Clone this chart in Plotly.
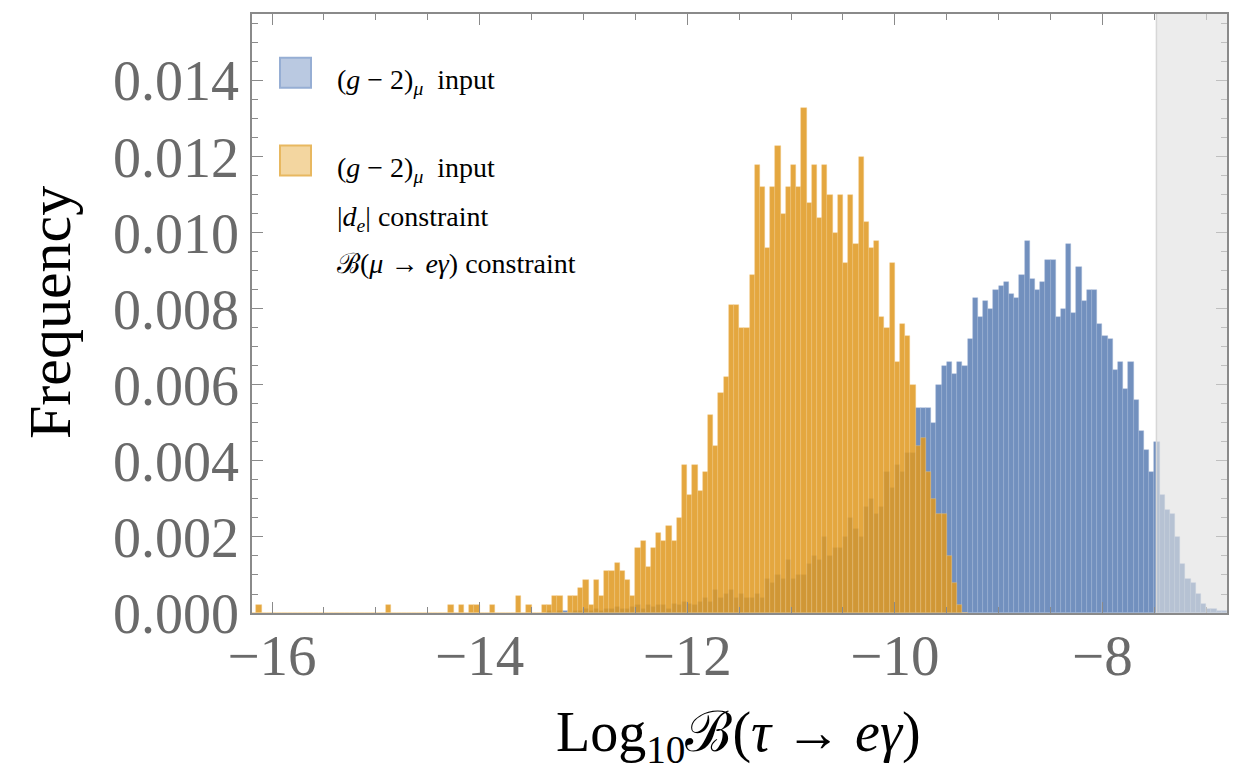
import numpy as np
import plotly.graph_objects as go

# ---------------- data ----------------
BIN_WIDTH = 0.05

# orange: (g-2)_mu input + |d_e| + B(mu->e gamma) constraints ; first bin starts at -16.2
orange_start = -16.2
orange_vals = [
    # -16.2 .. -15.25
    0, 0.00022, 0, 0, 0, 0, 0, 0, 0, 0, 0, 0, 0, 0, 0, 0, 0, 0, 0, 0,
    # -15.2 .. -14.25
    0, 0, 0, 0, 0, 0, 0.00022, 0, 0, 0, 0, 0, 0, 0, 0, 0, 0, 0, 0.00022, 0,
    # -14.2 .. -13.25
    0.00022, 0, 0.00022, 0.00022, 0, 0, 0.00022, 0, 0, 0, 0, 0.00044, 0, 0.00022, 0, 0,
    0.00022, 0.00022, 0.00044, 0.00044,
    # -13.2 .. -12.25
    0, 0.00044, 0.00044, 0.00066, 0.00088, 0.00022, 0.00088, 0.00044, 0.0011, 0.0011,
    0.00132, 0.0011, 0.00088, 0.00044, 0.0017, 0.0019, 0.0012, 0.0017, 0.0021, 0.0019,
    # -12.2 .. -11.25
    0.0023, 0.0019, 0.0025, 0.0039, 0.0031, 0.0039, 0.0032, 0.0037, 0.0052, 0.0044,
    0.0058, 0.0062, 0.0081, 0.0081, 0.0075, 0.0075, 0.0089, 0.0118, 0.0112, 0.0096,
    # -11.2 .. -10.25
    0.0112, 0.0123, 0.0105, 0.0112, 0.0118, 0.0112, 0.0133, 0.0108, 0.0118, 0.0104,
    0.0118, 0.0110, 0.0100, 0.0110, 0.0092, 0.0110, 0.0097, 0.0120, 0.0103, 0.0096,
    # -10.2 .. -9.35
    0.0098, 0.0078, 0.0075, 0.0092, 0.0066, 0.0076, 0.0073, 0.0060, 0.0044, 0.0046,
    0.0037, 0.0030, 0.0026, 0.0026, 0.0015, 0.0008, 0.0002, 0,
]

# blue: (g-2)_mu input only ; first bin starts at -13.35
blue_start = -13.35
blue_vals = [
    # -13.35 .. -11.55
    0.00005, 0, 0.00005, 0.00005, 0, 0.00005, 0.00005, 0.0001, 0.00005, 0.0001,
    0.00005, 0.0001, 0.0001, 0.00015, 0.0001, 0.0001, 0.00015, 0.0002, 0.0001, 0.0002,
    0.00015, 0.0002, 0.0002, 0.0001, 0.00025, 0.0002, 0.0003, 0.00025, 0.0002, 0.0003,
    0.0004, 0.0003, 0.0006, 0.0004, 0.0005, 0.0006, 0.0004,
    # -11.5 .. -10.05
    0.0005, 0.0004, 0.0004, 0.0005, 0.0004, 0.0009, 0.0008, 0.0010, 0.0009, 0.0014,
    0.0009, 0.0010, 0.0010, 0.0013, 0.0015, 0.0014, 0.0020, 0.0015, 0.0017, 0.0017,
    0.0020, 0.0025, 0.0022, 0.0020, 0.0028, 0.0030, 0.0026, 0.0028, 0.0037, 0.0033,
    # -10.0 .. -6.85
    0.0039, 0.0037, 0.0042, 0.0042, 0.0054, 0.0054, 0.0054, 0.0050, 0.0060, 0.0065,
    0.0066, 0.0063, 0.0066, 0.0065, 0.0072, 0.0083, 0.0078, 0.0082, 0.0080, 0.0085,
    0.0086, 0.0087, 0.0084, 0.0083, 0.0089, 0.0098, 0.0088, 0.0085, 0.0087, 0.0093,
    0.0093, 0.0078, 0.0080, 0.0097, 0.0079, 0.0091, 0.0082, 0.0085, 0.0085, 0.0076,
    0.0073, 0.0072, 0.0064, 0.0066, 0.0059, 0.0066, 0.0056, 0.0048, 0.0043, 0.0037,
    0.0045, 0.0031, 0.0027, 0.0026, 0.0020, 0.0013, 0.0009, 0.0008, 0.0005, 0.00025,
    0.0001, 0.0001, 0.00005, 0.00005,
]

x_ticks = [-16, -14, -12, -10, -8]
excluded_from = -7.48  # experimental bound on B(tau -> e gamma)

legend_labels = [
    "(<i>g</i> − 2)<sub><i>μ</i></sub>  input",
    "(<i>g</i> − 2)<sub><i>μ</i></sub>  input",
    "|<i>d</i><sub><i>e</i></sub>| constraint",
    "ℬ(<i>μ</i> → <i>eγ</i>) constraint",
]

# ---------------- figure ----------------
def centers(start, vals):
    return [round(start + BIN_WIDTH * (i + 0.5), 4) for i in range(len(vals))]

BLUE = "rgba(94,129,181,0.88)"
ORANGE = "rgba(224,153,32,0.86)"

fig = go.Figure()
fig.add_trace(go.Bar(
    x=centers(blue_start, blue_vals), y=blue_vals, width=BIN_WIDTH,
    marker=dict(color=BLUE, line=dict(color="rgba(160,182,215,0.7)", width=0.6)),
    showlegend=False,
))
fig.add_trace(go.Bar(
    x=centers(orange_start, orange_vals), y=orange_vals, width=BIN_WIDTH,
    marker=dict(color=ORANGE, line=dict(color="rgba(240,200,130,0.7)", width=0.6)),
    showlegend=False,
))

SERIF = "Liberation Serif, Times New Roman, serif"
GREY_TXT = "#6a6a6a"
FRAME = "#8a8a8a"

fig.update_layout(
    width=1245, height=776,
    margin=dict(l=252, r=18, t=12, b=163),
    paper_bgcolor="white", plot_bgcolor="white",
    barmode="overlay", bargap=0,
    showlegend=False,
)
fig.update_xaxes(
    range=[-16.193, -6.80], tickvals=x_ticks, ticks="inside", ticklen=11, tickwidth=1.3,
    tickcolor=FRAME, showline=True, linecolor=FRAME, linewidth=1.5, mirror="ticks",
    showgrid=False, zeroline=False, ticklabelstandoff=-8,
    tickfont=dict(family=SERIF, size=57, color=GREY_TXT),
    minor=dict(dtick=0.5, tick0=0, ticks="inside", ticklen=6, tickwidth=1.2, tickcolor=FRAME, showgrid=False),
)
fig.update_yaxes(
    range=[0, 0.01576], dtick=0.002, tick0=0, tickformat=".3f", ticks="inside", ticklen=11,
    tickwidth=1.3, tickcolor=FRAME, showline=True, linecolor=FRAME, linewidth=1.5, mirror="ticks",
    showgrid=False, zeroline=False,
    tickfont=dict(family=SERIF, size=56, color=GREY_TXT),
    minor=dict(dtick=0.0005, tick0=0, ticks="inside", ticklen=6, tickwidth=1.2, tickcolor=FRAME, showgrid=False),
)

# excluded region
fig.add_shape(type="rect", xref="x", yref="paper", x0=excluded_from, x1=-6.80, y0=0, y1=1,
              fillcolor="rgba(224,224,224,0.62)", line=dict(width=0), layer="above")
fig.add_shape(type="line", xref="x", yref="paper", x0=excluded_from, x1=excluded_from, y0=0, y1=1,
              line=dict(color="rgba(215,215,215,1)", width=1.5), layer="above")

# legend (manual, Mathematica style)
def px2paper(px, py):
    return (px - 252) / 975, (613 - py) / 601

for (top, bot), fill, edge in [((56, 86), "rgba(186,201,225,1)", "rgba(150,174,212,1)"),
                               ((144, 174), "rgba(243,214,160,1)", "rgba(232,184,96,1)")]:
    x0, y1 = px2paper(280, top)
    x1, y0 = px2paper(311, bot)
    fig.add_shape(type="rect", xref="paper", yref="paper", x0=x0, x1=x1, y0=y0, y1=y1,
                  fillcolor=fill, line=dict(color=edge, width=2))

for label, py in zip(legend_labels, [80, 168, 217, 262]):
    ax, ay = px2paper(335, py)
    fig.add_annotation(text=label, xref="paper", yref="paper", x=ax, y=ay, xanchor="left",
                       yanchor="middle", showarrow=False,
                       font=dict(family=SERIF, size=28, color="black"))

# axis titles
tx, ty = px2paper(738, 736)
fig.add_annotation(text="Log<sub>10</sub>ℬ(<i>τ</i> → <i>eγ</i>)", xref="paper", yref="paper",
                   x=tx, y=ty, xanchor="center", yanchor="middle", showarrow=False,
                   font=dict(family=SERIF, size=56, color="black"))
fx, fy = px2paper(50, 312)
fig.add_annotation(text="Frequency", xref="paper", yref="paper", x=fx, y=fy, textangle=-90,
                   xanchor="center", yanchor="middle", showarrow=False,
                   font=dict(family=SERIF, size=60, color="black"))

fig.write_html("out.html")
